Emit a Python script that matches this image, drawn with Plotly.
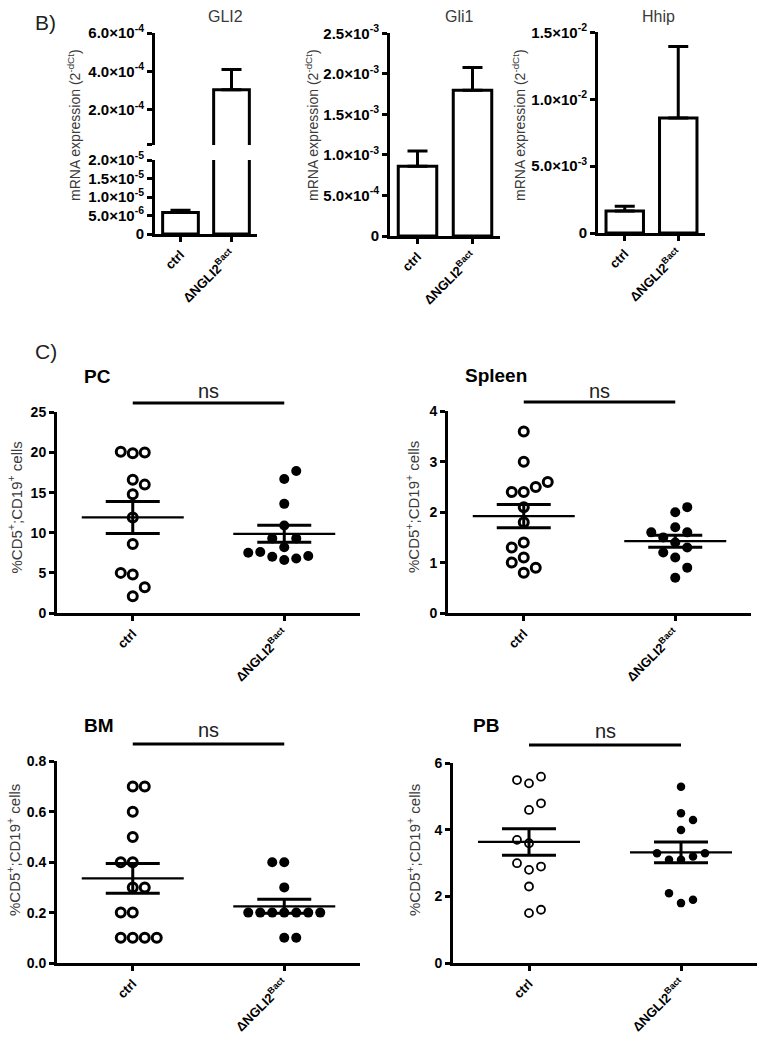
import plotly.graph_objects as go
import numpy as np

# ---------------- data ----------------
groups = ["ctrl", "ΔNGLI2<sup>Bact</sup>"]

# Panel B (bar means and upper error)
gli2_mean = [5.8e-6, 3.04e-4]
gli2_err = [0.6e-6, 1.06e-4]
gli1_mean = [8.6e-4, 1.80e-3]
gli1_err = [1.9e-4, 2.8e-4]
hhip_mean = [1.64e-3, 8.6e-3]
hhip_err = [0.36e-3, 5.35e-3]

gli2_upper_ticks = [2e-4, 4e-4, 6e-4]
gli2_upper_labels = ["2.0×10<sup>-4</sup>", "4.0×10<sup>-4</sup>", "6.0×10<sup>-4</sup>"]
gli2_lower_ticks = [0, 5e-6, 1e-5, 1.5e-5, 2e-5]
gli2_lower_labels = ["0", "5.0×10<sup>-6</sup>", "1.0×10<sup>-5</sup>", "1.5×10<sup>-5</sup>", "2.0×10<sup>-5</sup>"]
gli1_ticks = [0, 5e-4, 1e-3, 1.5e-3, 2e-3, 2.5e-3]
gli1_labels = ["0", "5.0×10<sup>-4</sup>", "1.0×10<sup>-3</sup>", "1.5×10<sup>-3</sup>", "2.0×10<sup>-3</sup>", "2.5×10<sup>-3</sup>"]
hhip_ticks = [0, 5e-3, 1e-2, 1.5e-2]
hhip_labels = ["0", "5.0×10<sup>-3</sup>", "1.0×10<sup>-2</sup>", "1.5×10<sup>-2</sup>"]

# Panel C (% CD5+;CD19+ cells per mouse)
pc_ctrl = [19.9, 20.0, 20.1, 16.6, 16.0, 14.8, 11.9, 8.6, 4.8, 5.0, 2.1, 3.2]
pc_dn = [16.7, 17.7, 13.6, 10.9, 8.2, 9.3, 9.3, 6.6, 7.0, 6.8, 7.6, 7.1, 7.5]
spleen_ctrl = [3.6, 3.0, 2.4, 2.5, 2.4, 2.6, 2.1, 1.8, 1.4, 1.3, 1.1, 0.9, 1.0, 0.8]
spleen_dn = [2.0, 2.1, 1.7, 1.4, 1.5, 1.6, 1.6, 1.3, 1.2, 1.1, 0.9, 0.7]
bm_ctrl = [0.7, 0.7, 0.6, 0.5, 0.4, 0.4, 0.3, 0.3, 0.2, 0.2, 0.1, 0.1, 0.1, 0.1]
bm_dn = [0.1, 0.1, 0.4, 0.4, 0.3, 0.2, 0.2, 0.2, 0.2, 0.2, 0.2, 0.2]
pb_ctrl = [5.4, 5.6, 5.5, 4.6, 4.8, 3.6, 3.7, 2.8, 2.9, 3.0, 2.3, 1.5, 1.6]
pb_dn = [5.3, 4.5, 4.3, 4.0, 3.1, 3.1, 3.2, 3.3, 3.3, 1.8, 2.1, 1.9]

# ---------------- layout helpers ----------------
W, H = 766, 1049
FONT = "Liberation Sans, Arial, sans-serif"
GRAY = "#3a3a3a"


def fx(p):
    return p / W


def fy(p):
    return 1 - p / H


def ydom(top, bottom):
    return [fy(bottom), fy(top)]


def xdom(left, right):
    return [fx(left), fx(right)]


def yax(top, bottom, rng, anchor, size=14, **kw):
    d = dict(domain=ydom(top, bottom), range=rng, anchor=anchor, automargin=False,
             showline=True, linecolor="black", linewidth=3,
             ticks="outside", ticklen=5, tickwidth=3, tickcolor="black",
             showgrid=False, zeroline=False, fixedrange=True,
             tickfont=dict(family=FONT, size=size, color="black", weight="bold"))
    d.update(kw)
    return d


def xax(left, right, anchor, show=True, size=13):
    d = dict(domain=xdom(left, right), range=[-0.5, 1.5], anchor=anchor, automargin=False,
             showgrid=False, zeroline=False, fixedrange=True)
    if show:
        d.update(showline=True, linecolor="black", linewidth=3, ticks="outside",
                 ticklen=5, tickwidth=3, tickcolor="black",
                 tickvals=[0, 1], ticktext=groups, tickangle=-45,
                 tickfont=dict(family=FONT, size=size, color="black", weight="bold"))
    else:
        d.update(visible=False)
    return d


fig = go.Figure()
layout = dict(width=W, height=H, margin=dict(l=0, r=0, t=0, b=0, pad=0, autoexpand=False),
              plot_bgcolor="white", paper_bgcolor="white", showlegend=False)
annotations = []
shapes = []

# ---------------- Panel B ----------------
b_bar_kw = dict(width=0.7, marker=dict(color="white", line=dict(color="black", width=3)))


def add_bar(means, errs, xa, ya):
    fig.add_trace(go.Bar(x=[0, 1], y=means, xaxis=xa, yaxis=ya,
                         error_y=dict(type="data", symmetric=False, array=errs,
                                      arrayminus=[0, 0], color="black",
                                      thickness=3, width=10),
                         **b_bar_kw))


BT = 15  # tick font size in panel B

# GLI2 broken axis: upper (y) and lower (y2)
add_bar(gli2_mean, gli2_err, "x", "y")
add_bar(gli2_mean, gli2_err, "x2", "y2")
layout["xaxis"] = xax(155, 257, "y", show=False)
layout["yaxis"] = yax(33, 145, [1.7e-5, 6.0e-4], "x", size=BT,
                      tickvals=[1.72e-5] + gli2_upper_ticks,
                      ticktext=[""] + gli2_upper_labels)
layout["xaxis2"] = xax(155, 257, "y2")
layout["yaxis2"] = yax(160, 234, [0, 2.0e-5 * 1.002], "x2", size=BT,
                       tickvals=gli2_lower_ticks, ticktext=gli2_lower_labels)

add_bar(gli1_mean, gli1_err, "x3", "y3")
layout["xaxis3"] = xax(390, 500, "y3")
layout["yaxis3"] = yax(33, 236, [0, 2.5e-3 * 1.002], "x3", size=BT,
                       tickvals=gli1_ticks, ticktext=gli1_labels)

add_bar(hhip_mean, hhip_err, "x4", "y4")
layout["xaxis4"] = xax(598, 705, "y4")
layout["yaxis4"] = yax(32, 233, [0, 1.5e-2 * 1.002], "x4", size=BT,
                       tickvals=hhip_ticks, ticktext=hhip_labels)

for text, cx in [("GLI2", 226), ("Gli1", 459), ("Hhip", 658)]:
    annotations.append(dict(text=text, x=fx(cx), y=fy(17), xref="paper", yref="paper",
                            showarrow=False, xanchor="center", yanchor="middle",
                            font=dict(family=FONT, size=16, color=GRAY)))
for cx in [74, 312, 519]:
    annotations.append(dict(text="mRNA expression (2<sup>-dCt</sup>)", x=fx(cx), y=fy(125),
                            xref="paper", yref="paper", showarrow=False, textangle=-90,
                            xanchor="center", yanchor="middle",
                            font=dict(family=FONT, size=14, color=GRAY)))
annotations.append(dict(text="B)", x=fx(33), y=fy(22), xref="paper", yref="paper",
                        showarrow=False, xanchor="left", yanchor="middle",
                        font=dict(family=FONT, size=21, color="#222")))
annotations.append(dict(text="C)", x=fx(33), y=fy(352), xref="paper", yref="paper",
                        showarrow=False, xanchor="left", yanchor="middle",
                        font=dict(family=FONT, size=21, color="#222")))


# ---------------- Panel C ----------------
def swarm(values, ypx_per_unit, xpx_per_unit, diam):
    placed = []
    offsets = []
    toggle = 1
    for v in values:
        yv = v * ypx_per_unit

        def free(xo):
            return all((xo - px) ** 2 + (yv - py) ** 2 >= (diam - 0.05) ** 2 for px, py in placed)

        if free(0):
            k = 0
        else:
            k = None
            n = 1
            while k is None:
                for c in (toggle * n, -toggle * n):
                    if free(c * diam):
                        k = c
                        break
                n += 1
            toggle = -toggle
        placed.append((k * diam, yv))
        offsets.append(k * diam / xpx_per_unit)
    return np.array(offsets)


c_panels = [
    # name, ctrl, dn, xpx, ypx, range, dtick, fmt, title pos, ytitle x, (sig y, ns y), small markers
    ("PC", pc_ctrl, pc_dn, (57, 360), (412, 613), [0, 25], 5, None, (82, 377), 15, (403, 391), False),
    ("Spleen", spleen_ctrl, spleen_dn, (448, 751), (411, 613), [0, 4], 1, None, (463, 375), 413, (402, 391), False),
    ("BM", bm_ctrl, bm_dn, (57, 360), (761, 963), [0, 0.8], 0.2, ".1f", (82, 725), 13, (744, 730), False),
    ("PB", pb_ctrl, pb_dn, (453, 757), (763, 963), [0, 6], 2, None, (471, 725), 413, (745, 731), True),
]

for i, (name, ctrl, dn, xpx, ypx, rng, dtick, fmt, tpos, ytx, (sig_y, ns_y), small) in enumerate(c_panels):
    idx = 5 + i
    xa, ya = f"x{idx}", f"y{idx}"
    yrng = [rng[0], rng[1] * 1.002]
    ypu = (ypx[1] - ypx[0]) / (yrng[1] - yrng[0])
    xpu = (xpx[1] - xpx[0]) / 2.0
    ykw = dict(dtick=dtick, tick0=0)
    if fmt:
        ykw["tickformat"] = fmt
    layout[f"xaxis{idx}"] = xax(xpx[0], xpx[1], ya)
    layout[f"yaxis{idx}"] = yax(ypx[0], ypx[1], yrng, xa, size=14, **ykw)

    for g, vals in enumerate([ctrl, dn]):
        vals = np.array(vals, dtype=float)
        off = swarm(vals, ypu, xpu, 12.0)
        if g == 0:
            if small:
                mk = dict(symbol="circle", size=8, color="white", line=dict(color="black", width=1.8))
            else:
                mk = dict(symbol="circle", size=9, color="white", line=dict(color="black", width=3))
        else:
            mk = dict(symbol="circle", size=8.5 if small else 10, color="black", line=dict(width=0))
        fig.add_trace(go.Scatter(x=g + off, y=vals, mode="markers", marker=mk,
                                 xaxis=xa, yaxis=ya, cliponaxis=False))
        m = vals.mean()
        sem = vals.std(ddof=1) / np.sqrt(len(vals))
        hw = 51 / xpu
        fig.add_trace(go.Scatter(x=[g - hw, g + hw], y=[m, m], mode="lines",
                                 line=dict(color="black", width=2.2), xaxis=xa, yaxis=ya))
        fig.add_trace(go.Scatter(x=[g], y=[m], mode="markers",
                                 marker=dict(size=1, color="black", opacity=0),
                                 error_y=dict(type="data", array=[sem], color="black",
                                              thickness=3, width=27),
                                 xaxis=xa, yaxis=ya))

    annotations.append(dict(text=f"<b>{name}</b>", x=fx(tpos[0]), y=fy(tpos[1]),
                            xref="paper", yref="paper", showarrow=False,
                            xanchor="left", yanchor="middle",
                            font=dict(family=FONT, size=19, color="black")))
    annotations.append(dict(text="%CD5<sup>+</sup>;CD19<sup>+</sup> cells", x=fx(ytx),
                            y=fy((ypx[0] + ypx[1]) / 2 - 5 if i < 2 else 850),
                            xref="paper", yref="paper", showarrow=False, textangle=-90,
                            xanchor="center", yanchor="middle",
                            font=dict(family=FONT, size=15, color=GRAY)))
    annotations.append(dict(text="ns", x=0.5, y=fy(ns_y), xref=xa, yref="paper",
                            showarrow=False, xanchor="center", yanchor="middle",
                            font=dict(family=FONT, size=20, color="#222")))
    shapes.append(dict(type="line", xref=xa, yref="paper", x0=0, x1=1,
                       y0=fy(sig_y), y1=fy(sig_y), line=dict(color="black", width=3)))

layout["annotations"] = annotations
layout["shapes"] = shapes
fig.update_layout(**layout)
fig.write_html("out.html", config={"displayModeBar": False},
               post_script="document.body.style.margin='0';document.body.style.overflow='hidden';")
